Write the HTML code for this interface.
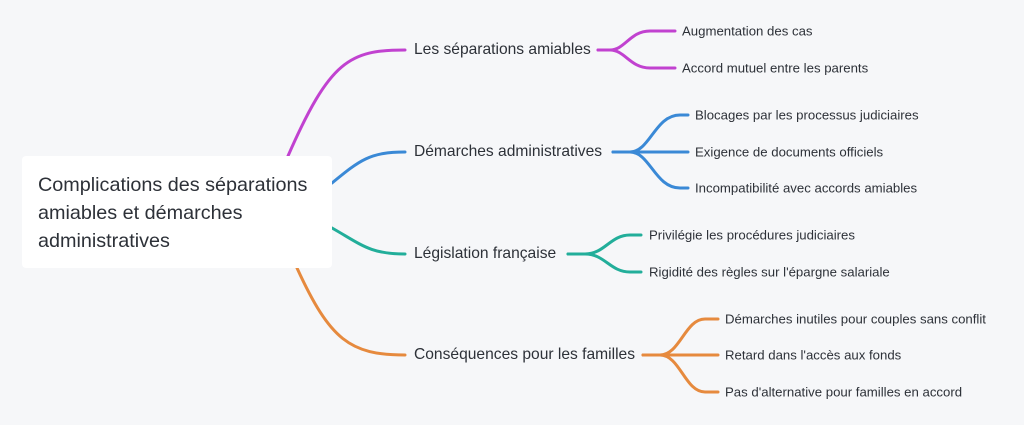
<!DOCTYPE html>
<html><head><meta charset="utf-8"><style>
body{margin:0;width:1024px;height:425px;background:#f6f7f9;font-family:"Liberation Sans",sans-serif;overflow:hidden;position:relative}
svg{position:absolute;left:0;top:0}
.box{position:absolute;left:22px;top:156px;width:310px;height:112px;background:#fff;border-radius:4px}
.box div{position:absolute;left:16px;top:15px;font-size:19.8px;line-height:28px;color:#2d3138}
.t{position:absolute;color:#2d3138;white-space:nowrap;transform:translateY(-50%)}
.b{font-size:15.6px}
.c{font-size:13.2px}
</style></head><body>
<svg width="1024" height="425" fill="none" stroke-width="3" stroke-linecap="round">
<g stroke="#c142d0">
<path d="M288 156 C330 60 350 50 405 50"/>
<path d="M598 50 H610 C625 50 630 31 650 31 H675"/>
<path d="M598 50 H610 C625 50 630 68 650 68 H675"/>
</g>
<g stroke="#3a89d6">
<path d="M332 183 C360 160 370 152 405 152"/>
<path d="M613 152 H630 C650 152 655 115 680 115 H688"/>
<path d="M613 152 H688"/>
<path d="M613 152 H630 C650 152 655 188 680 188 H688"/>
</g>
<g stroke="#22ae9a">
<path d="M332 228 C362 245 370 254 405 254"/>
<path d="M568 254 H585 C605 254 610 235 630 235 H641"/>
<path d="M568 254 H585 C605 254 610 272 630 272 H641"/>
</g>
<g stroke="#e68a3e">
<path d="M297 268 C330 340 350 355 405 355"/>
<path d="M643 355 H660 C680 355 685 319 705 319 H718"/>
<path d="M643 355 H718"/>
<path d="M643 355 H660 C680 355 685 392 705 392 H718"/>
</g>
</svg>
<div class="box"><div>Complications des séparations<br>amiables et démarches<br>administratives</div></div>
<div class="t b" style="left:414px;top:50px">Les séparations amiables</div>
<div class="t b" style="left:414px;top:152px">Démarches administratives</div>
<div class="t b" style="left:414px;top:254px">Législation française</div>
<div class="t b" style="left:414px;top:355px">Conséquences pour les familles</div>
<div class="t c" style="left:682px;top:31px">Augmentation des cas</div>
<div class="t c" style="left:682px;top:68px">Accord mutuel entre les parents</div>
<div class="t c" style="left:695px;top:115px">Blocages par les processus judiciaires</div>
<div class="t c" style="left:695px;top:152px">Exigence de documents officiels</div>
<div class="t c" style="left:695px;top:188px">Incompatibilité avec accords amiables</div>
<div class="t c" style="left:649px;top:235px">Privilégie les procédures judiciaires</div>
<div class="t c" style="left:649px;top:272px">Rigidité des règles sur l'épargne salariale</div>
<div class="t c" style="left:725px;top:319px">Démarches inutiles pour couples sans conflit</div>
<div class="t c" style="left:725px;top:355px">Retard dans l'accès aux fonds</div>
<div class="t c" style="left:725px;top:392px">Pas d'alternative pour familles en accord</div>
</body></html>
